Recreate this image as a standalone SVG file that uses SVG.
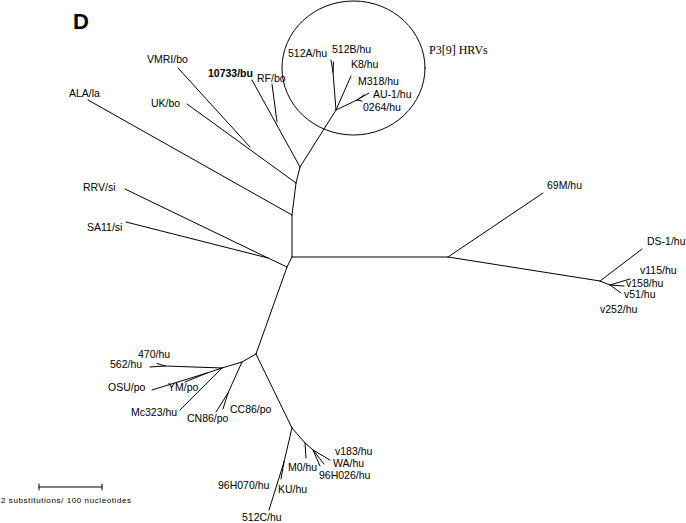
<svg xmlns="http://www.w3.org/2000/svg" width="686" height="523" viewBox="0 0 686 523">
<style>
.e{stroke:#000;stroke-width:1;fill:none;stroke-linecap:round}
.t{font-family:"Liberation Sans",Arial,sans-serif;font-size:10.5px;fill:#000}
.b{font-weight:bold}
.s{font-family:"Liberation Serif","Times New Roman",serif;font-size:12px;fill:#000}
</style>
<rect width="686" height="523" fill="#fff"/>
<text x="73" y="29" font-family="Liberation Sans,Arial,sans-serif" font-size="22" font-weight="bold">D</text>
<g id="connectors">
<ellipse class="e" cx="353.5" cy="68" rx="71.5" ry="67"/>
<path class="e" d="M292,257 L448,257" stroke-width="1.2"/>
<path class="e" d="M448,257 L543,193"/>
<path class="e" d="M448,257 L600,281"/>
<path class="e" d="M600,281 L642,249"/>
<path class="e" d="M600,281 L610,285"/>
<path class="e" d="M610,285 L630,279"/>
<path class="e" d="M610,285 L624,286"/>
<path class="e" d="M610,285 L621,293"/>
<path class="e" d="M292,257 L292,215"/>
<path class="e" d="M292,215 L88,100"/>
<path class="e" d="M292,215 L296,183"/>
<path class="e" d="M296,183 L187,104"/>
<path class="e" d="M250,147 L178,68"/>
<path class="e" d="M296,183 L300,167"/>
<path class="e" d="M300,167 L252,80"/>
<path class="e" d="M277,122 L272,84"/>
<path class="e" d="M300,167 L336,110"/>
<path class="e" d="M336,110 L333,72"/>
<path class="e" d="M333,72 L331,60"/>
<path class="e" d="M333,72 L333.5,62"/>
<path class="e" d="M336,110 L351,76"/>
<path class="e" d="M336,110 L357,100"/>
<path class="e" d="M357,100 L369,93"/>
<path class="e" d="M357,100 L364,95"/>
<path class="e" d="M357,100 L362,101"/>
<path class="e" d="M292,257 L287,267"/>
<path class="e" d="M287,267 L268,258"/>
<path class="e" d="M268,258 L125,189"/>
<path class="e" d="M268,258 L126,222"/>
<path class="e" d="M287,267 L256,354"/>
<path class="e" d="M256,354 L242,362"/>
<path class="e" d="M242,362 L228,393"/>
<path class="e" d="M228,393 L216,412"/>
<path class="e" d="M228,393 L223,409"/>
<path class="e" d="M242,362 L222,368"/>
<path class="e" d="M222,368 L165,366"/>
<path class="e" d="M165,366 L150,367"/>
<path class="e" d="M165,366 L157,363.5"/>
<path class="e" d="M222,368 L207,373"/>
<path class="e" d="M207,373 L152,390"/>
<path class="e" d="M207,373 L185,382"/>
<path class="e" d="M222,368 L180,410"/>
<path class="e" d="M256,354 L292,428"/>
<path class="e" d="M292,428 L284,462"/>
<path class="e" d="M284,462 L269,510"/>
<path class="e" d="M284,462 L281,479"/>
<path class="e" d="M292,428 L305,443"/>
<path class="e" d="M305,443 L306,458"/>
<path class="e" d="M305,443 L313,450"/>
<path class="e" d="M313,450 L330,460"/>
<path class="e" d="M313,450 L324,464"/>
<path class="e" d="M313,450 L320,466"/>
<path class="e" d="M39,487 L102,487 M39,484 L39,490 M102,484 L102,490"/>
</g>
<g id="n-vmri"><text class="t" x="147" y="63">VMRI/bo</text></g>
<g id="n-10733"><text class="t b" x="208" y="77">10733/bu</text></g>
<g id="n-rf"><text class="t" x="257" y="82">RF/bo</text></g>
<g id="n-ala"><text class="t" x="69" y="97">ALA/la</text></g>
<g id="n-uk"><text class="t" x="151" y="107">UK/bo</text></g>
<g id="n-512a"><text class="t" x="288" y="57">512A/hu</text></g>
<g id="n-512b"><text class="t" x="332" y="53">512B/hu</text></g>
<g id="n-k8"><text class="t" x="351" y="68">K8/hu</text></g>
<g id="n-m318"><text class="t" x="358" y="85">M318/hu</text></g>
<g id="n-au1"><text class="t" x="373" y="98">AU-1/hu</text></g>
<g id="n-0264"><text class="t" x="363" y="111">0264/hu</text></g>
<g id="n-p39"><text class="s" x="429" y="54">P3[9] HRVs</text></g>
<g id="n-rrv"><text class="t" x="83" y="191">RRV/si</text></g>
<g id="n-sa11"><text class="t" x="87" y="231">SA11/si</text></g>
<g id="n-69m"><text class="t" x="547" y="189">69M/hu</text></g>
<g id="n-ds1"><text class="t" x="647" y="245">DS-1/hu</text></g>
<g id="n-v115"><text class="t" x="640" y="274">v115/hu</text></g>
<g id="n-v158"><text class="t" x="626" y="287">v158/hu</text></g>
<g id="n-v51"><text class="t" x="624" y="298">v51/hu</text></g>
<g id="n-v252"><text class="t" x="600" y="313">v252/hu</text></g>
<g id="n-470"><text class="t" x="138" y="358">470/hu</text></g>
<g id="n-562"><text class="t" x="110" y="368">562/hu</text></g>
<g id="n-osu"><text class="t" x="108" y="391">OSU/po</text></g>
<g id="n-ym"><text class="t" x="168" y="391">YM/po</text></g>
<g id="n-mc323"><text class="t" x="131" y="416">Mc323/hu</text></g>
<g id="n-cn86"><text class="t" x="187" y="422">CN86/po</text></g>
<g id="n-cc86"><text class="t" x="230" y="413">CC86/po</text></g>
<g id="n-v183"><text class="t" x="335" y="455">v183/hu</text></g>
<g id="n-wa"><text class="t" x="333" y="467">WA/hu</text></g>
<g id="n-96h026"><text class="t" x="319" y="479">96H026/hu</text></g>
<g id="n-m0"><text class="t" x="288" y="471">M0/hu</text></g>
<g id="n-96h070"><text class="t" x="218" y="489">96H070/hu</text></g>
<g id="n-ku"><text class="t" x="278" y="493">KU/hu</text></g>
<g id="n-512c"><text class="t" x="242" y="521">512C/hu</text></g>
<g id="scale"><text x="1" y="503" font-family="Liberation Sans,Arial,sans-serif" font-size="8" textLength="130">2 substitutions/ 100 nucleotides</text></g>
</svg>
